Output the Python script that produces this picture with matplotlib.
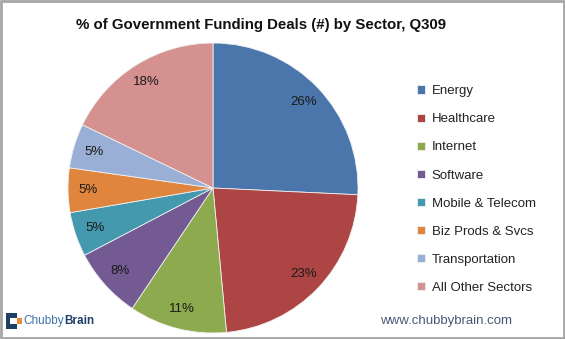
import matplotlib
matplotlib.use("Agg")
import matplotlib.pyplot as plt
from matplotlib.patches import Rectangle

title = "% of Government Funding Deals (#) by Sector, Q309"
sectors = ["Energy", "Healthcare", "Internet", "Software", "Mobile & Telecom",
           "Biz Prods & Svcs", "Transportation", "All Other Sectors"]
values = [26, 23, 11, 8, 5, 5, 5, 18]
colors = ["#4A76AC", "#AC4543", "#8DAA4E", "#745A93", "#4599AE", "#E0853E",
          "#9AAFD6", "#D49190"]

plt.rcParams['font.family'] = ['Liberation Sans', 'DejaVu Sans']

fig = plt.figure(figsize=(5.65, 3.39), dpi=100)
W, H = 565, 339
cx, cy, r = 213, 188, 145
ax = fig.add_axes([(cx - r) / W, (H - cy - r) / H, 2 * r / W, 2 * r / H])

wedges, texts, autotexts = ax.pie(
    values, colors=colors, startangle=90, counterclock=False,
    autopct='%.0f%%', pctdistance=0.86, radius=1,
    wedgeprops=dict(edgecolor='#f0f0f0', linewidth=0.6),
    textprops=dict(fontsize=9.5, color='#1a1a1a'))
ax.set_xlim(-1, 1)
ax.set_ylim(-1, 1)
ax.set_aspect('equal')
ax.axis('off')

fig.text(261 / W, 1 - 25 / H, title, ha='center', va='center',
         fontsize=10.8, fontweight='bold', color='#111111')

leg = fig.legend(wedges, sectors, loc='upper left',
                 bbox_to_anchor=(412 / W, 1 - 80 / H), frameon=False,
                 fontsize=9.5, handlelength=0.6, handleheight=0.6,
                 handletextpad=0.5, labelspacing=1.22, borderaxespad=0)
for t in leg.get_texts():
    t.set_color('#222222')

# URL
fig.text(512 / W, 1 - 321 / H, "www.chubbybrain.com", ha='right', va='center',
         fontsize=9.5, color='#4a5878')

# Logo
fig.patches.append(Rectangle((6 / W, 1 - 329 / H), 11 / W, 16 / H,
                             transform=fig.transFigure, facecolor='#1f3f66',
                             edgecolor='none'))
fig.patches.append(Rectangle((10 / W, 1 - 324 / H), 7 / W, 6 / H,
                             transform=fig.transFigure, facecolor='white',
                             edgecolor='none'))
fig.patches.append(Rectangle((17 / W, 1 - 324 / H), 5 / W, 6 / H,
                             transform=fig.transFigure, facecolor='#e98a3a',
                             edgecolor='none'))
chubby = fig.text(23 / W, 1 - 321 / H, "Chubby", ha='left', va='center',
                  fontsize=8.5, color='#3f72a8')
ax.annotate("Brain", xy=(1, 0.5), xycoords=chubby, xytext=(0.5, 0),
            textcoords='offset points', ha='left', va='center',
            fontsize=8.5, color='#1f3f66', fontweight='bold',
            annotation_clip=False)

# Border
fig.patches.append(Rectangle((0.002, 0.003), 0.996, 0.994,
                             transform=fig.transFigure, facecolor='none',
                             edgecolor='#a6a6a6', linewidth=2))

fig.savefig("out.png", dpi=100, facecolor='white')
